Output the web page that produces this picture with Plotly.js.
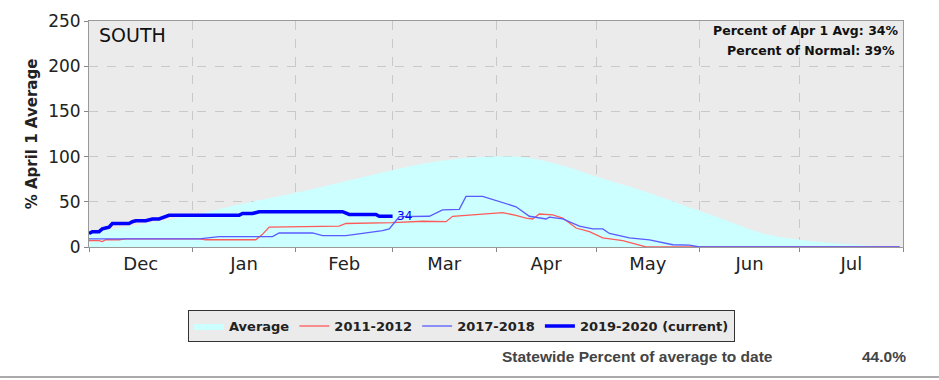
<!DOCTYPE html>
<html>
<head>
<meta charset="utf-8">
<script src="https://cdn.plot.ly/plotly-3.0.1.min.js"></script>
<style>
  html, body { margin: 0; padding: 0; background: #ffffff; }
  #chart { width: 939px; height: 380px; }
</style>
</head>
<body>
<div id="chart"></div>
<script>
// ---- Data ----
const regionName = 'SOUTH';
const pctApr1Avg = 34;
const pctNormal = 39;
const statewidePct = '44.0%';
const monthTicks = ['Dec', 'Jan', 'Feb', 'Mar', 'Apr', 'May', 'Jun', 'Jul'];

const avgDates = ['2019-12-01','2019-12-15','2020-01-01','2020-01-15','2020-02-01','2020-02-15',
  '2020-03-01','2020-03-15','2020-04-01','2020-04-10','2020-04-20','2020-05-01','2020-05-15',
  '2020-06-01','2020-06-10','2020-06-20','2020-07-01','2020-07-15','2020-07-25','2020-08-01'];
const avgValues = [16, 24, 35, 47, 60, 72, 85, 95, 100, 99, 91, 78, 62, 40, 28, 15, 8, 3, 1, 0.3];

const y2012Dates = ['2019-12-01','2019-12-04','2019-12-05','2019-12-06','2019-12-10','2019-12-12',
  '2020-01-03','2020-01-05','2020-01-20','2020-01-22','2020-01-24','2020-02-14','2020-02-16',
  '2020-03-01','2020-03-10','2020-03-17','2020-03-19','2020-03-23','2020-03-30','2020-04-03',
  '2020-04-07','2020-04-10','2020-04-12','2020-04-14','2020-04-18','2020-04-21','2020-04-25',
  '2020-04-29','2020-05-03','2020-05-09','2020-05-14','2020-05-16','2020-07-31'];
const y2012Values = [7, 7, 6, 8, 8, 9, 9, 8, 8, 14, 22, 23, 26, 27, 28.5, 28, 34, 35, 37, 38,
  35, 32, 31, 36.5, 35.5, 32, 21, 17, 10, 7, 2, 0, 0];

const y2018Dates = ['2019-12-01','2020-01-03','2020-01-09','2020-01-25','2020-01-27','2020-02-06',
  '2020-02-09','2020-02-16','2020-02-21','2020-02-27','2020-02-29','2020-03-03','2020-03-12',
  '2020-03-16','2020-03-21','2020-03-23','2020-03-28','2020-04-03','2020-04-07','2020-04-11',
  '2020-04-16','2020-04-17','2020-04-21','2020-04-26','2020-04-30','2020-05-03','2020-05-05',
  '2020-05-11','2020-05-17','2020-05-24','2020-05-29','2020-06-01','2020-07-31'];
const y2018Values = [9, 9, 11.5, 11.5, 15.5, 15.5, 12.5, 12.5, 15, 18, 20, 33.5, 34, 41, 41.7,
  56, 56, 49, 44.5, 34, 31, 33, 31, 23, 20, 20, 15, 10, 8, 2.5, 2, 0, 0];

const y2020Dates = ['2019-12-01','2019-12-02','2019-12-04','2019-12-05','2019-12-06','2019-12-07',
  '2019-12-08','2019-12-13','2019-12-14','2019-12-15','2019-12-18','2019-12-19','2019-12-20',
  '2019-12-22','2019-12-24','2019-12-25','2020-01-15','2020-01-16','2020-01-19','2020-01-20',
  '2020-01-21','2020-02-15','2020-02-16','2020-02-17','2020-02-25','2020-02-26','2020-03-01'];
const y2020Values = [15, 17, 17, 20, 21, 22, 26, 26, 28, 29, 29, 30, 31, 31, 34, 35, 35, 37, 37,
  38, 39, 39, 38, 36, 36, 34, 34];

const seriesNames = ['Average', '2011-2012', '2017-2018', '2019-2020 (current)'];

// ---- Chart ----
const font = 'DejaVu Sans, Verdana, sans-serif';

const traces = [
  {
    x: avgDates, y: avgValues, name: seriesNames[0], type: 'scatter', mode: 'lines',
    line: { width: 0, shape: 'spline', color: '#ccffff' },
    fill: 'tozeroy', fillcolor: '#ccffff'
  },
  {
    x: y2012Dates, y: y2012Values, name: seriesNames[1], type: 'scatter', mode: 'lines',
    line: { width: 1.3, color: '#ff5a5a' }
  },
  {
    x: y2018Dates, y: y2018Values, name: seriesNames[2], type: 'scatter', mode: 'lines',
    line: { width: 1.3, color: '#5a5aff' }
  },
  {
    x: y2020Dates, y: y2020Values, name: seriesNames[3], type: 'scatter', mode: 'lines',
    line: { width: 3.5, color: '#0000ff' }
  }
];

const lastIdx = y2020Values.length - 1;

const layout = {
  width: 939, height: 380,
  margin: { l: 89, r: 36, t: 21, b: 133 },
  paper_bgcolor: '#ffffff',
  plot_bgcolor: '#ebebeb',
  font: { family: font, color: '#222' },
  showlegend: true,
  legend: {
    orientation: 'h', xref: 'paper', yref: 'paper',
    x: 0.4576, xanchor: 'center', y: -0.279, yanchor: 'top',
    bgcolor: '#ebebeb', bordercolor: '#333333', borderwidth: 1,
    font: { family: font, size: 13, color: '#222', weight: 'bold' },
    itemwidth: 30, tracegroupgap: 0
  },
  xaxis: {
    type: 'date',
    range: ['2019-12-01', '2020-08-01'],
    tick0: '2019-12-01', dtick: 'M1',
    tickformat: '%b', ticklabelmode: 'period',
    ticks: 'outside', ticklen: 4, tickcolor: '#888',
    ticklabelstandoff: -4,
    showgrid: true, gridcolor: '#c9c9c9', griddash: 'dash', gridwidth: 1,
    showline: true, linecolor: '#999', linewidth: 1, mirror: true,
    zeroline: false,
    tickfont: { family: font, size: 18, color: '#222' },
    fixedrange: true
  },
  yaxis: {
    range: [0, 250], tick0: 0, dtick: 50,
    ticks: 'outside', ticklen: 4, tickcolor: '#888',
    showgrid: true, gridcolor: '#c9c9c9', griddash: 'dash', gridwidth: 1,
    showline: true, linecolor: '#999', linewidth: 1, mirror: true,
    zeroline: false,
    tickfont: { family: font, size: 17, color: '#222' },
    title: { text: '% April 1 Average', font: { family: font, size: 15, color: '#222', weight: 'bold' }, standoff: 6 },
    automargin: false,
    fixedrange: true
  },
  annotations: [
    {
      text: regionName, xref: 'paper', yref: 'paper', x: 0.0098, y: 0.938,
      xanchor: 'left', yanchor: 'middle', showarrow: false,
      font: { family: font, size: 19, color: '#111' }
    },
    {
      text: 'Percent of Apr 1 Avg: ' + pctApr1Avg + '%', xref: 'paper', yref: 'paper',
      x: 0.9975, y: 0.9558, xanchor: 'right', yanchor: 'middle', showarrow: false,
      font: { family: font, size: 12.5, color: '#111', weight: 'bold' }
    },
    {
      text: 'Percent of Normal: ' + pctNormal + '%', xref: 'paper', yref: 'paper',
      x: 0.9926, y: 0.8695, xanchor: 'right', yanchor: 'middle', showarrow: false,
      font: { family: font, size: 12.5, color: '#111', weight: 'bold' }
    },
    {
      text: String(y2020Values[lastIdx]), x: y2020Dates[lastIdx], y: y2020Values[lastIdx],
      xref: 'x', yref: 'y', xanchor: 'left', yanchor: 'middle', xshift: 2, showarrow: false,
      font: { family: font, size: 12, color: '#0000ff' }
    },
    {
      text: 'Statewide Percent of average to date', xref: 'paper', yref: 'paper',
      x: 0.5049, y: -0.4867, xanchor: 'left', yanchor: 'middle', showarrow: false,
      font: { family: 'Liberation Sans, Arial, sans-serif', size: 15.5, color: '#444', weight: 'bold' }
    },
    {
      text: statewidePct, xref: 'paper', yref: 'paper',
      x: 1.0061, y: -0.4867, xanchor: 'right', yanchor: 'middle', showarrow: false,
      font: { family: 'Liberation Sans, Arial, sans-serif', size: 15.5, color: '#444', weight: 'bold' }
    }
  ],
  shapes: [
    {
      type: 'line', xref: 'paper', yref: 'paper',
      x0: -0.1093, x1: 1.0442, y0: -0.575, y1: -0.575,
      line: { color: '#aaaaaa', width: 2 }
    }
  ]
};

Plotly.newPlot('chart', traces, layout, { displayModeBar: false, staticPlot: true });
</script>
</body>
</html>
